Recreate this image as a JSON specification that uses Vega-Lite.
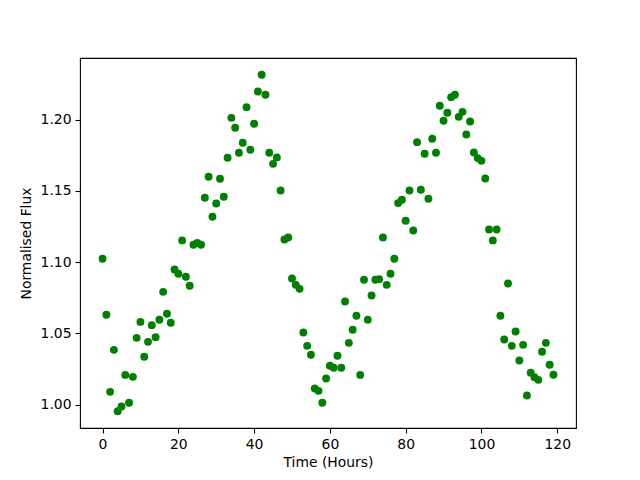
{
  "$schema": "https://vega.github.io/schema/vega-lite/v6.json",
  "width": 496,
  "height": 370,
  "autosize": {"type": "none"},
  "padding": {"left": 80, "top": 58, "right": 64, "bottom": 52},
  "background": "white",
  "config": {
    "view": {"stroke": "black", "strokeWidth": 1.1},
    "font": "DejaVu Sans",
    "axis": {
      "grid": false,
      "domain": false,
      "tickColor": "black",
      "tickSize": 5,
      "tickWidth": 1.1,
      "labelColor": "black",
      "labelFont": "DejaVu Sans",
      "labelFontSize": 13.9,
      "labelPadding": 4,
      "titleColor": "black",
      "titleFont": "DejaVu Sans",
      "titleFontSize": 13.9,
      "titleFontWeight": "normal"
    }
  },
  "data": {
    "values": [
      {"t": 0, "f": 1.1023}, {"t": 1, "f": 1.063}, {"t": 2, "f": 1.0089}, {"t": 3, "f": 1.0384},
      {"t": 4, "f": 0.9953}, {"t": 5, "f": 0.9986}, {"t": 6, "f": 1.0208}, {"t": 7, "f": 1.0012},
      {"t": 8, "f": 1.0194}, {"t": 9, "f": 1.0468}, {"t": 10, "f": 1.058}, {"t": 11, "f": 1.0335},
      {"t": 12, "f": 1.044}, {"t": 13, "f": 1.0557}, {"t": 14, "f": 1.0473}, {"t": 15, "f": 1.0595},
      {"t": 16, "f": 1.0791}, {"t": 17, "f": 1.0637}, {"t": 18, "f": 1.0574}, {"t": 19, "f": 1.0948},
      {"t": 20, "f": 1.0918}, {"t": 21, "f": 1.1152}, {"t": 22, "f": 1.0897}, {"t": 23, "f": 1.0834},
      {"t": 24, "f": 1.1122}, {"t": 25, "f": 1.1135}, {"t": 26, "f": 1.1122}, {"t": 27, "f": 1.1452},
      {"t": 28, "f": 1.1599}, {"t": 29, "f": 1.1318}, {"t": 30, "f": 1.1411}, {"t": 31, "f": 1.1585},
      {"t": 32, "f": 1.1459}, {"t": 33, "f": 1.1733}, {"t": 34, "f": 1.2013}, {"t": 35, "f": 1.1943},
      {"t": 36, "f": 1.1768}, {"t": 37, "f": 1.1838}, {"t": 38, "f": 1.2088}, {"t": 39, "f": 1.1789},
      {"t": 40, "f": 1.1971}, {"t": 41, "f": 1.2198}, {"t": 42, "f": 1.2315}, {"t": 43, "f": 1.2175},
      {"t": 44, "f": 1.1768}, {"t": 45, "f": 1.169}, {"t": 46, "f": 1.1735}, {"t": 47, "f": 1.1503},
      {"t": 48, "f": 1.1159}, {"t": 49, "f": 1.1173}, {"t": 50, "f": 1.0885}, {"t": 51, "f": 1.084},
      {"t": 52, "f": 1.0812}, {"t": 53, "f": 1.0506}, {"t": 54, "f": 1.0412}, {"t": 55, "f": 1.0349},
      {"t": 56, "f": 1.0112}, {"t": 57, "f": 1.0096}, {"t": 58, "f": 1.0012}, {"t": 59, "f": 1.0183},
      {"t": 60, "f": 1.0272}, {"t": 61, "f": 1.0258}, {"t": 62, "f": 1.0342}, {"t": 63, "f": 1.0258},
      {"t": 64, "f": 1.0723}, {"t": 65, "f": 1.0433}, {"t": 66, "f": 1.0525}, {"t": 67, "f": 1.0623},
      {"t": 68, "f": 1.0208}, {"t": 69, "f": 1.0876}, {"t": 70, "f": 1.0595}, {"t": 71, "f": 1.0765},
      {"t": 72, "f": 1.0876}, {"t": 73, "f": 1.088}, {"t": 74, "f": 1.1173}, {"t": 75, "f": 1.084},
      {"t": 76, "f": 1.0918}, {"t": 77, "f": 1.1023}, {"t": 78, "f": 1.1414}, {"t": 79, "f": 1.1438},
      {"t": 80, "f": 1.129}, {"t": 81, "f": 1.1503}, {"t": 82, "f": 1.1222}, {"t": 83, "f": 1.1842},
      {"t": 84, "f": 1.1508}, {"t": 85, "f": 1.1761}, {"t": 86, "f": 1.1445}, {"t": 87, "f": 1.1866},
      {"t": 88, "f": 1.1768}, {"t": 89, "f": 1.2098}, {"t": 90, "f": 1.1992}, {"t": 91, "f": 1.2049},
      {"t": 92, "f": 1.2158}, {"t": 93, "f": 1.2175}, {"t": 94, "f": 1.202}, {"t": 95, "f": 1.2055},
      {"t": 96, "f": 1.1896}, {"t": 97, "f": 1.1987}, {"t": 98, "f": 1.177}, {"t": 99, "f": 1.173},
      {"t": 100, "f": 1.1711}, {"t": 101, "f": 1.1587}, {"t": 102, "f": 1.1229}, {"t": 103, "f": 1.1152},
      {"t": 104, "f": 1.1229}, {"t": 105, "f": 1.0623}, {"t": 106, "f": 1.0456}, {"t": 107, "f": 1.085},
      {"t": 108, "f": 1.0412}, {"t": 109, "f": 1.0513}, {"t": 110, "f": 1.0309}, {"t": 111, "f": 1.0419},
      {"t": 112, "f": 1.0063}, {"t": 113, "f": 1.0223}, {"t": 114, "f": 1.0192}, {"t": 115, "f": 1.0173},
      {"t": 116, "f": 1.037}, {"t": 117, "f": 1.0433}, {"t": 118, "f": 1.0279}, {"t": 119, "f": 1.0209}
    ]
  },
  "mark": {"type": "point", "filled": true, "opacity": 1, "color": "#008000", "size": 62, "shape": "circle"},
  "encoding": {
    "x": {
      "field": "t",
      "type": "quantitative",
      "title": "Time (Hours)",
      "scale": {"domain": [-5.95, 124.95], "nice": false, "zero": false},
      "axis": {"values": [0, 20, 40, 60, 80, 100, 120], "format": "d", "titlePadding": 5}
    },
    "y": {
      "field": "f",
      "type": "quantitative",
      "title": "Normalised Flux",
      "scale": {"domain": [0.9835, 1.2433], "nice": false, "zero": false},
      "axis": {"values": [1.0, 1.05, 1.1, 1.15, 1.2], "format": ".2f", "titlePadding": 7}
    }
  }
}
